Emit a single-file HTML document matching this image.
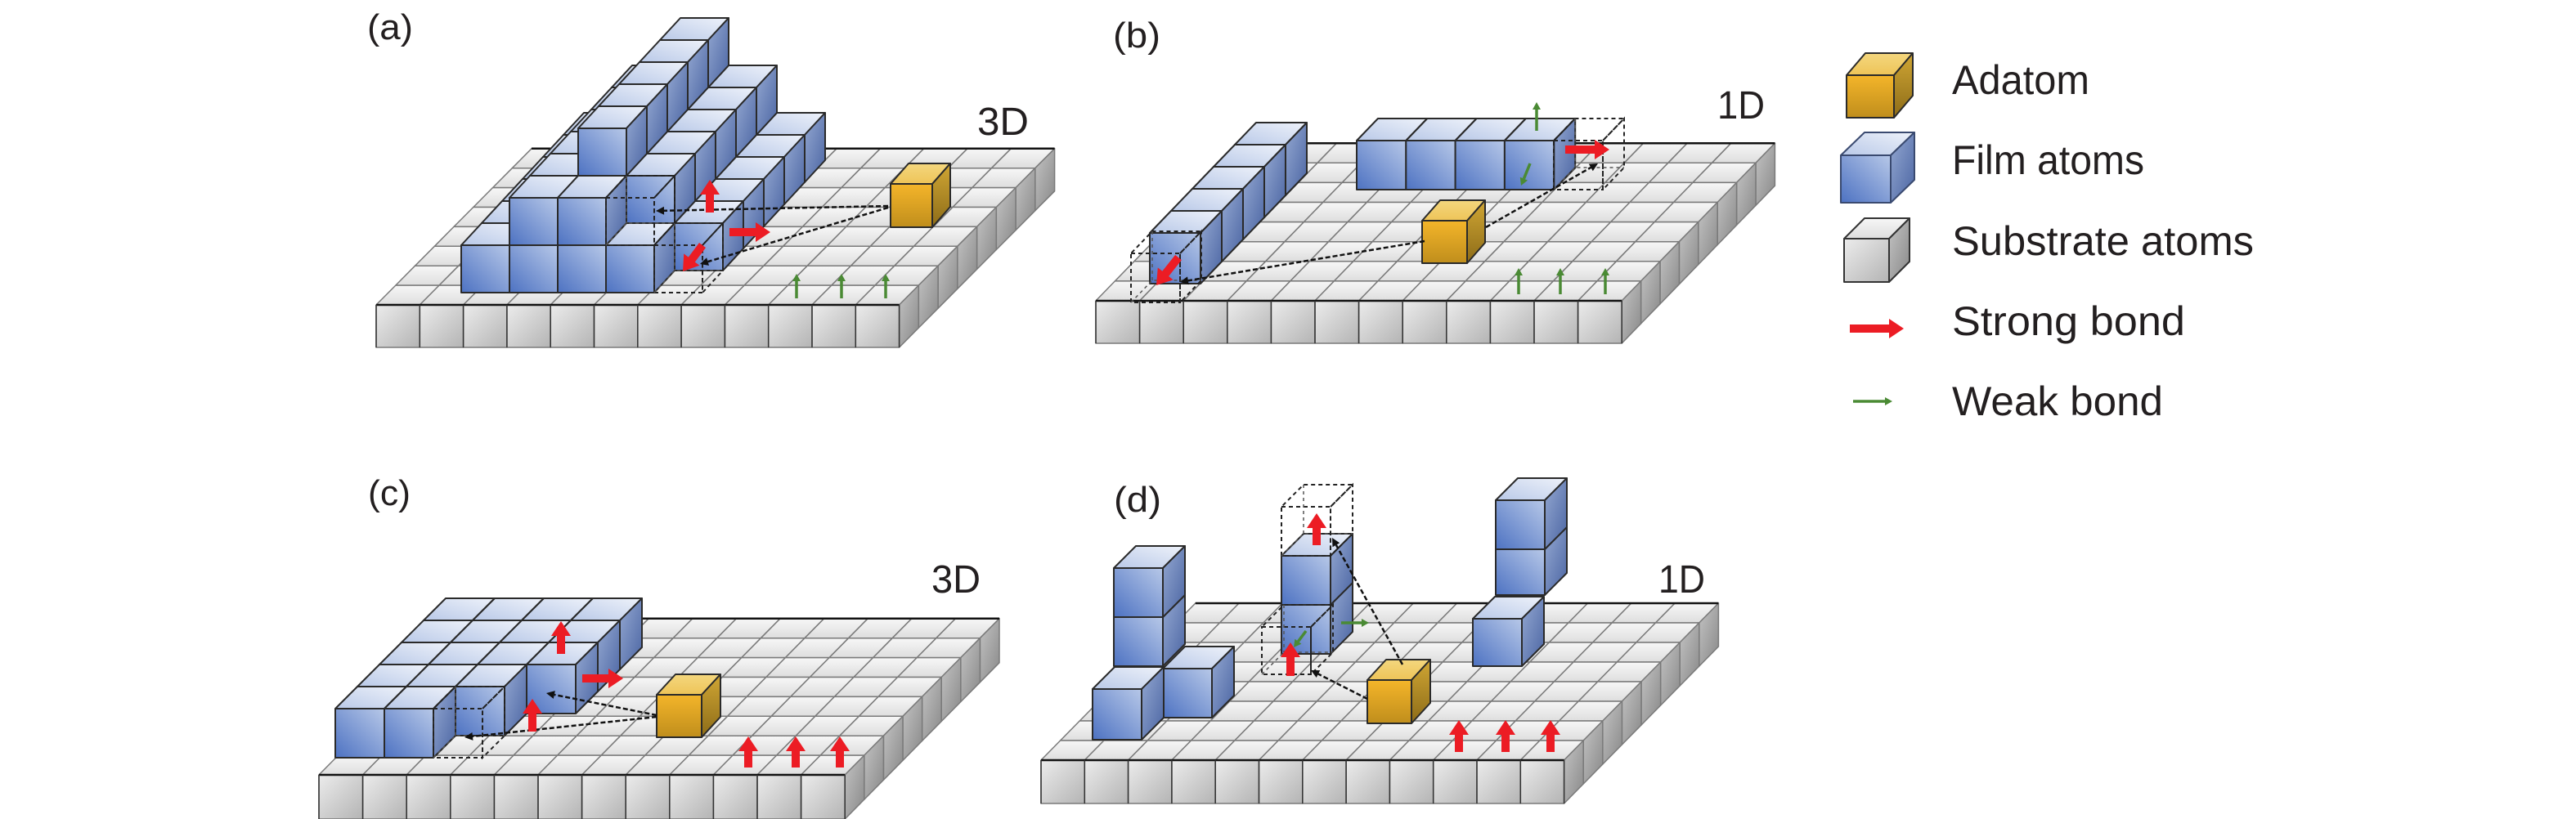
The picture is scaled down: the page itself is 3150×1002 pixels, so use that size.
<!DOCTYPE html>
<html><head><meta charset="utf-8">
<style>html,body{margin:0;padding:0;background:#fff;}svg{display:block;}</style>
</head><body>
<svg id="s" xmlns="http://www.w3.org/2000/svg" width="3150" height="1002" viewBox="0 0 3150 1002">
<defs>
<linearGradient id="sTop" x1="0" y1="0" x2="0" y2="1"><stop offset="0" stop-color="#f7f7f7"/><stop offset="1" stop-color="#dedede"/></linearGradient>
<linearGradient id="sFront" x1="0" y1="0" x2="1" y2="1"><stop offset="0" stop-color="#ececec"/><stop offset="1" stop-color="#b4b4b4"/></linearGradient>
<linearGradient id="sSide" x1="0" y1="0" x2="1" y2="1"><stop offset="0" stop-color="#c4c4c4"/><stop offset="1" stop-color="#888"/></linearGradient>
<linearGradient id="fTop" x1="0" y1="1" x2="1" y2="0"><stop offset="0" stop-color="#b9c9e8"/><stop offset="1" stop-color="#eef2fa"/></linearGradient>
<linearGradient id="fFront" x1="1" y1="0" x2="0" y2="1"><stop offset="0" stop-color="#b7c8e8"/><stop offset="1" stop-color="#4d72c2"/></linearGradient>
<linearGradient id="fSide" x1="0" y1="0" x2="1" y2="1"><stop offset="0" stop-color="#95a9d2"/><stop offset="1" stop-color="#4a64a2"/></linearGradient>
<linearGradient id="gTop" x1="0" y1="0" x2="0" y2="1"><stop offset="0" stop-color="#f4d77e"/><stop offset="1" stop-color="#eec458"/></linearGradient>
<linearGradient id="gFront" x1="0" y1="0" x2="0" y2="1"><stop offset="0" stop-color="#f4b52a"/><stop offset="1" stop-color="#c08e1c"/></linearGradient>
<linearGradient id="gSide" x1="0" y1="0" x2="0" y2="1"><stop offset="0" stop-color="#d0a634"/><stop offset="1" stop-color="#8d6c18"/></linearGradient>
</defs>
<g id="draw"></g>
<g font-family="'Liberation Sans', sans-serif" fill="#231f20">
<text x="449" y="48" font-size="44" textLength="56" lengthAdjust="spacingAndGlyphs">(a)</text>
<text x="1195" y="165" font-size="48" textLength="63" lengthAdjust="spacingAndGlyphs">3D</text>
<text x="1361" y="58" font-size="44" textLength="58" lengthAdjust="spacingAndGlyphs">(b)</text>
<text x="2100" y="145" font-size="48" textLength="58" lengthAdjust="spacingAndGlyphs">1D</text>
<text x="450" y="618" font-size="44" textLength="52" lengthAdjust="spacingAndGlyphs">(c)</text>
<text x="1139" y="725" font-size="48" textLength="60" lengthAdjust="spacingAndGlyphs">3D</text>
<text x="1362" y="626" font-size="44" textLength="58" lengthAdjust="spacingAndGlyphs">(d)</text>
<text x="2028" y="725" font-size="48" textLength="57" lengthAdjust="spacingAndGlyphs">1D</text>
<text x="2387" y="115" font-size="50" textLength="168" lengthAdjust="spacingAndGlyphs">Adatom</text>
<text x="2387" y="213" font-size="50" textLength="235" lengthAdjust="spacingAndGlyphs">Film atoms</text>
<text x="2387" y="312" font-size="50" textLength="369" lengthAdjust="spacingAndGlyphs">Substrate atoms</text>
<text x="2387" y="410" font-size="50" textLength="285" lengthAdjust="spacingAndGlyphs">Strong bond</text>
<text x="2387" y="508" font-size="50" textLength="258" lengthAdjust="spacingAndGlyphs">Weak bond</text>
</g>
</svg>
<script>
var out=[];
function P(a){return a.map(function(p){return p[0].toFixed(1)+','+p[1].toFixed(1)}).join(' ');}
var fills={s:['sTop','sFront','sSide'],f:['fTop','fFront','fSide'],g:['gTop','gFront','gSide']};
function cube(x,y,w,h,dx,dy,t,opt){
  opt=opt||{};
  if(t==='d'){
    var st='fill="none" stroke="#222" stroke-width="2" stroke-dasharray="5,4"';
    out.push('<polygon points="'+P([[x,y],[x+w,y],[x+w+dx,y+dy],[x+dx,y+dy]])+'" '+st+'/>');
    out.push('<polygon points="'+P([[x+w,y],[x+w+dx,y+dy],[x+w+dx,y+dy+h],[x+w,y+h]])+'" '+st+'/>');
    out.push('<rect x="'+x+'" y="'+y+'" width="'+w+'" height="'+h+'" '+st+'/>');
    out.push('<polyline points="'+P([[x,y+h],[x+dx,y+dy+h],[x+w+dx,y+dy+h]])+'" fill="none" stroke="#555" stroke-width="1.5" stroke-dasharray="4,4"/>');
    out.push('<line x1="'+(x+dx)+'" y1="'+(y+dy)+'" x2="'+(x+dx)+'" y2="'+(y+dy+h)+'" stroke="#555" stroke-width="1.5" stroke-dasharray="4,4"/>');
    return;
  }
  var f=fills[t], sc=opt.sc||'#2a2a2a', sw=opt.sw||2;
  var st=' stroke="'+sc+'" stroke-width="'+sw+'" stroke-linejoin="round"';
  if(!opt.noTop) out.push('<polygon points="'+P([[x,y],[x+w,y],[x+w+dx,y+dy],[x+dx,y+dy]])+'" fill="url(#'+f[0]+')"'+st+'/>');
  if(!opt.noSide) out.push('<polygon points="'+P([[x+w,y],[x+w+dx,y+dy],[x+w+dx,y+dy+h],[x+w,y+h]])+'" fill="url(#'+f[2]+')"'+st+'/>');
  if(!opt.noFront) out.push('<rect x="'+x+'" y="'+y+'" width="'+w+'" height="'+h+'" fill="url(#'+f[1]+')"'+st+'/>');
}
function slab(X,Y,cw,rdx,rdy,h){
  var r,c;
  for(r=7;r>=0;r--)for(c=0;c<12;c++){
    var x=X+cw*c+rdx*r,y=Y+rdy*r;
    cube(x,y,cw,h,rdx,rdy,'s',{noFront:r>0,noSide:c<11,sc:'#7a7a7a',sw:1.5});
  }
  // dark outlines
  out.push('<line x1="'+X+'" y1="'+Y+'" x2="'+(X+12*cw)+'" y2="'+Y+'" stroke="#111" stroke-width="2.5"/>');
  out.push('<line x1="'+(X+8*rdx)+'" y1="'+(Y+8*rdy)+'" x2="'+(X+12*cw+8*rdx)+'" y2="'+(Y+8*rdy)+'" stroke="#111" stroke-width="2.5"/>');
  for(c=0;c<=12;c++){var x=X+cw*c;out.push('<line x1="'+x+'" y1="'+Y+'" x2="'+x+'" y2="'+(Y+h)+'" stroke="#333" stroke-width="1.5"/>');}
}
function grid(ox,oy,w,h,dx,dy,cells){
  cells.sort(function(a,b){return (b[1]-a[1])||(a[2]-b[2])||(a[0]-b[0]);});
  cells.forEach(function(e){cube(ox+w*e[0]+dx*e[1],oy+dy*e[1]-h*e[2],w,h,dx,dy,e[3]||'f');});
}
function red(x1,y1,x2,y2){
  var L=Math.hypot(x2-x1,y2-y1),ux=(x2-x1)/L,uy=(y2-y1)/L,nx=-uy,ny=ux;
  var sw=5,hw=12,hl=Math.min(18,L*0.55);
  var bx=x2-ux*hl,by=y2-uy*hl;
  var pts=[[x1+nx*sw,y1+ny*sw],[bx+nx*sw,by+ny*sw],[bx+nx*hw,by+ny*hw],[x2,y2],[bx-nx*hw,by-ny*hw],[bx-nx*sw,by-ny*sw],[x1-nx*sw,y1-ny*sw]];
  out.push('<polygon points="'+P(pts)+'" fill="#ec1c24"/>');
}
function green(x1,y1,x2,y2){
  var L=Math.hypot(x2-x1,y2-y1),ux=(x2-x1)/L,uy=(y2-y1)/L,nx=-uy,ny=ux;
  var hl=9,hw=5,bx=x2-ux*hl,by=y2-uy*hl;
  out.push('<line x1="'+x1+'" y1="'+y1+'" x2="'+bx+'" y2="'+by+'" stroke="#4a8a34" stroke-width="3.5"/>');
  out.push('<polygon points="'+P([[bx+nx*hw,by+ny*hw],[x2,y2],[bx-nx*hw,by-ny*hw]])+'" fill="#4a8a34"/>');
}
function dash(x1,y1,x2,y2){
  var L=Math.hypot(x2-x1,y2-y1),ux=(x2-x1)/L,uy=(y2-y1)/L,nx=-uy,ny=ux;
  var hl=10,hw=5,bx=x2-ux*hl,by=y2-uy*hl;
  out.push('<line x1="'+x1+'" y1="'+y1+'" x2="'+bx+'" y2="'+by+'" stroke="#111" stroke-width="2.5" stroke-dasharray="6,3"/>');
  out.push('<polygon points="'+P([[bx+nx*hw,by+ny*hw],[x2,y2],[bx-nx*hw,by-ny*hw]])+'" fill="#111"/>');
}

/* ===== Panel (a) ===== */
slab(460,373,53.3,23.75,-23.9,52);
(function(){
  var c=[],r,k;
  for(k=0;k<4;k++)c.push([k,0,0]);
  c.push([4,0,0,'d']);
  for(r=1;r<=5;r++)for(k=0;k<=4;k++)c.push([k,r,0]);
  c.push([1,0,1]);c.push([2,0,1]);c.push([3,0,1,'d']);
  for(r=1;r<=5;r++)for(k=1;k<=3;k++)c.push([k,r,1]);
  for(r=1;r<=5;r++)c.push([2,r,2]);
  grid(564,300,59,58,25,-27,c);
})();
cube(1089,225,51,53,22,-25,'g');
dash(1086,252,802,258);dash(1086,254,856,323);
red(868,260,868,220);red(892,284,942,284);red(859,300,835,332);
green(974,365,974,335);green(1029,365,1029,335);green(1083,365,1083,335);

/* ===== Panel (b) ===== */
slab(1340,368,53.6,23.4,-24.1,52);
for(var k=4;k>=0;k--)cube(1406+26*k,285-27*k,62,62,26,-27,'f');
cube(1383,310,60,60,26,-27,'d');
for(k=0;k<4;k++)cube(1659+60.3*k,172,60.3,60,26,-27,'f');
cube(1900,172,60,60,26,-27,'d');
cube(1739,270,55,52,22,-25,'g');
dash(1817,278,1954,200);dash(1742,295,1443,345);
red(1914,183,1968,183);red(1441,315,1414,349);
green(1879,160,1879,125);green(1871,200,1860,227);
green(1857,360,1857,328);green(1908,360,1908,328);green(1963,360,1963,328);

/* ===== Panel (c) ===== */
slab(390,948,53.6,23.6,-23.9,54);
(function(){
  var c=[[0,0,0],[1,0,0],[2,0,0,'d'],[0,1,0],[1,1,0],[2,1,0]],r,k;
  for(r=2;r<=4;r++)for(k=0;k<=3;k++)c.push([k,r,0]);
  grid(410,867,60,60,27,-27,c);
})();
cube(803,850,55,52,23,-25,'g');
dash(803,875,668,848);dash(803,877,568,902);
red(686,800,686,760);red(712,830,762,830);red(651,895,651,855);
red(915,939,915,901);red(973,939,973,901);red(1027,939,1027,901);

/* ===== Panel (d) ===== */
slab(1273,930,53.3,23.6,-24,53);
var W=60,D=27;
cube(1362,755,W,60,D,-D,'f');cube(1362,695,W,60,D,-D,'f');
cube(1829,672,W,56,D,-D,'f');cube(1829,612,W,60,D,-D,'f');
cube(1567,740,W,60,D,-D,'f');cube(1567,680,W,60,D,-D,'f');
cube(1567,620,W,60,D,-D,'d');
cube(1543,767,W,58,D,-D,'d');
cube(1422,818,W,60,D,-D,'f');
cube(1336,843,W,62,D,-D,'f');
cube(1801,757,W,58,D,-D,'f');
cube(1672,832,54,53,23,-25,'g');
dash(1715,813,1629,658);dash(1672,855,1603,820);
red(1610,667,1610,628);red(1578,827,1578,786);
green(1640,762,1674,762);green(1597,772,1582,792);
red(1784,920,1784,881);red(1841,920,1841,881);red(1896,920,1896,881);

/* ===== Legend ===== */
cube(2258,92,58,52,23,-27,'g');
cube(2251,190,61,58,29,-28,'f',{sc:'#3a4a70'});
cube(2255,292,55,53,25,-25,'s',{sc:'#333'});
red(2262,402,2328,402);
green(2266,491,2314,491);

document.getElementById('draw').innerHTML=out.join('');
</script>
</body></html>
